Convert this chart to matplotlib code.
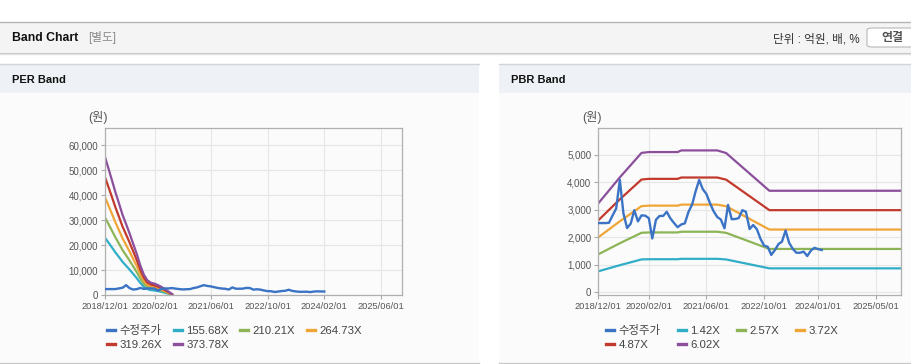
import numpy as np
import pandas as pd
import matplotlib
matplotlib.use("Agg")
import matplotlib.pyplot as plt
import matplotlib.dates as mdates
from matplotlib.patches import Rectangle, FancyBboxPatch
from matplotlib.lines import Line2D
from matplotlib.ticker import FuncFormatter

plt.rcParams['font.family'] = ['Liberation Sans', 'Noto Sans CJK KR', 'DejaVu Sans']

# --- données ---
price_start = '2018-12-01'
price = [2520, 2520, 2520, 2530, 2800, 3050, 4090, 2880, 2340, 2500,
         2990, 2580, 2800, 2790, 2700, 1960, 2640, 2780, 2780, 2930,
         2690, 2520, 2370, 2470, 2510, 2930, 3200, 3660, 4090, 3760,
         3580, 3250, 2950, 2740, 2650, 2330, 3180, 2660, 2670, 2700,
         2990, 2930, 2300, 2450, 2300, 1950, 1700, 1660, 1360, 1540,
         1760, 1840, 2250, 1800, 1580, 1440, 1440, 1480, 1320, 1520,
         1620, 1570, 1540]

# EPS (mensuel, 2018/12 -> 2020/07)
eps = [147.7, 135, 122, 110, 98, 86, 76, 66, 55, 44,
       32, 22, 16, 13.5, 12.5, 11, 9, 6.5, 4, 1.3]
per_multiples = [155.68, 210.21, 264.73, 319.26, 373.78]

# BPS (points de rupture)
bps_dates = ['2018-12-01', '2019-06-01', '2019-12-01', '2020-02-01', '2020-10-01',
             '2020-11-01', '2021-09-01', '2021-11-15', '2022-11-15', '2025-12-01']
bps = [538, 695, 843, 848, 848, 858, 858, 842, 614, 614]
pbr_multiples = [1.42, 2.57, 3.72, 4.87, 6.02]

per_ticks = ['2018-12-01', '2020-02-01', '2021-06-01', '2022-10-01', '2024-02-01', '2025-06-01']
pbr_ticks = ['2018-12-01', '2020-02-01', '2021-06-01', '2022-10-01', '2024-01-01', '2025-05-01']

price_color = '#3b73c5'
band_colors = ['#31aec7', '#8db456', '#f0a537', '#c23a2c', '#8b4f9c']

W, H = 912, 364
fig = plt.figure(figsize=(W / 100, H / 100), dpi=100)


def fx(px):
    return px / W


def fy(py):
    return 1 - py / H


def rect(x0, y0, x1, y1, color):
    fig.add_artist(Rectangle((fx(x0), fy(y1)), fx(x1 - x0), (y1 - y0) / H,
                             transform=fig.transFigure, facecolor=color,
                             edgecolor='none', zorder=0))


def hline(x0, x1, y, color, lw=1.0):
    fig.add_artist(Line2D([fx(x0), fx(x1)], [fy(y), fy(y)], transform=fig.transFigure,
                          color=color, lw=lw, zorder=1))


# en-tête
rect(0, 22, W, 52, '#f4f4f4')
hline(0, W, 22, '#b4b4b4')
hline(0, W, 52.5, '#c4c4c4')
hline(0, W, 53.5, '#e2e2e2')
fig.text(fx(12), fy(38), 'Band Chart', fontsize=8.8, fontweight='bold', color='#111111', va='center')
fig.text(fx(88), fy(38), '[별도]', fontsize=8.4, color='#8a8a8a', va='center')
fig.text(fx(860), fy(39), '단위 : 억원, 배, %', fontsize=8.4, color='#333333', va='center', ha='right')
fig.add_artist(FancyBboxPatch((fx(867), fy(47)), fx(60), 19 / H, boxstyle='round,pad=0,rounding_size=0.006',
                              transform=fig.transFigure, facecolor='white', edgecolor='#b8b8b8', lw=0.8, zorder=2))
fig.text(fx(892), fy(38.5), '연결', fontsize=8.6, fontweight='bold', color='#555555', va='center', ha='center', zorder=3)

# panneaux
for x0, x1, title in [(0, 479, 'PER Band'), (499, W, 'PBR Band')]:
    rect(x0, 64, x1, 93, '#eef2f7')
    rect(x0, 93, x1, 362, '#fbfbfb')
    hline(x0, x1, 64, '#d2d6da')
    hline(x0, x1, 362.5, '#c8c8c8')
    fig.text(fx(x0 + 12), fy(80), title, fontsize=8, fontweight='bold', color='#111111', va='center')

comma = FuncFormatter(lambda v, p: f'{int(v):,}')


def style_axis(ax, ticks, ylim, ystep):
    ax.set_facecolor('none')
    ax.set_xlim(pd.Timestamp('2018-12-01'), pd.Timestamp('2025-12-01'))
    ax.set_ylim(*ylim)
    ax.set_xticks(pd.to_datetime(ticks))
    ax.xaxis.set_major_formatter(mdates.DateFormatter('%Y/%m/%d'))
    ax.set_yticks(np.arange(0, ylim[1], ystep))
    ax.yaxis.set_major_formatter(comma)
    ax.grid(True, color='#e6e6e6', lw=0.8)
    ax.set_axisbelow(True)
    for s in ax.spines.values():
        s.set_color('#b0b0b0')
        s.set_linewidth(0.9)
    ax.tick_params(length=3, color='#a8a8a8', labelcolor='#555555', pad=2)
    ax.tick_params(axis='x', labelsize=6.7)
    ax.tick_params(axis='y', labelsize=7)


price_dates = pd.date_range(price_start, periods=len(price), freq='MS')
eps_dates = pd.date_range(price_start, periods=len(eps), freq='MS')
bps_x = pd.to_datetime(bps_dates)

# PER
ax1 = fig.add_axes([fx(105), fy(295.4), fx(402 - 105), (295.4 - 128) / H])
style_axis(ax1, per_ticks, (0, 66800), 10000)
h1 = [ax1.plot(price_dates, price, color=price_color, lw=1.7, label='수정주가', zorder=5)[0]]
for m, c in zip(per_multiples, band_colors):
    h1.append(ax1.plot(eps_dates, np.array(eps) * m, color=c, lw=1.6, label=f'{m:.2f}X')[0])
fig.text(fx(88), fy(118), '(원)', fontsize=8.8, color='#555555', va='center')

# PBR
ax2 = fig.add_axes([fx(598.3), fy(295.4), fx(901 - 598.3), (295.4 - 128) / H])
style_axis(ax2, pbr_ticks, (-113, 5981), 1000)
h2 = []
for m, c in zip(pbr_multiples, band_colors):
    h2.append(ax2.plot(bps_x, np.array(bps) * m, color=c, lw=1.6, label=f'{m:.2f}X')[0])
h2.insert(0, ax2.plot(price_dates, price, color=price_color, lw=1.7, label='수정주가', zorder=5)[0])
fig.text(fx(582), fy(118), '(원)', fontsize=8.8, color='#555555', va='center')

# légendes (ordre ligne par ligne)
order = [0, 4, 1, 5, 2, 3]
for ax, hs, x0, cs in [(ax1, h1, 107, 1.0), (ax2, h2, 606, 1.5)]:
    hh = [hs[i] for i in order]
    leg = ax.legend(hh, [h.get_label() for h in hh], loc='upper left',
                    bbox_to_anchor=(fx(x0), fy(325)), bbox_transform=fig.transFigure,
                    ncol=4, frameon=False, fontsize=8.2, handlelength=0.7, handletextpad=0.4,
                    columnspacing=cs, labelspacing=0.35, borderpad=0, borderaxespad=0)
    for t in leg.get_texts():
        t.set_color('#444444')
    for l in leg.get_lines():
        l.set_linewidth(2.4)

fig.savefig('out.png', dpi=100)
